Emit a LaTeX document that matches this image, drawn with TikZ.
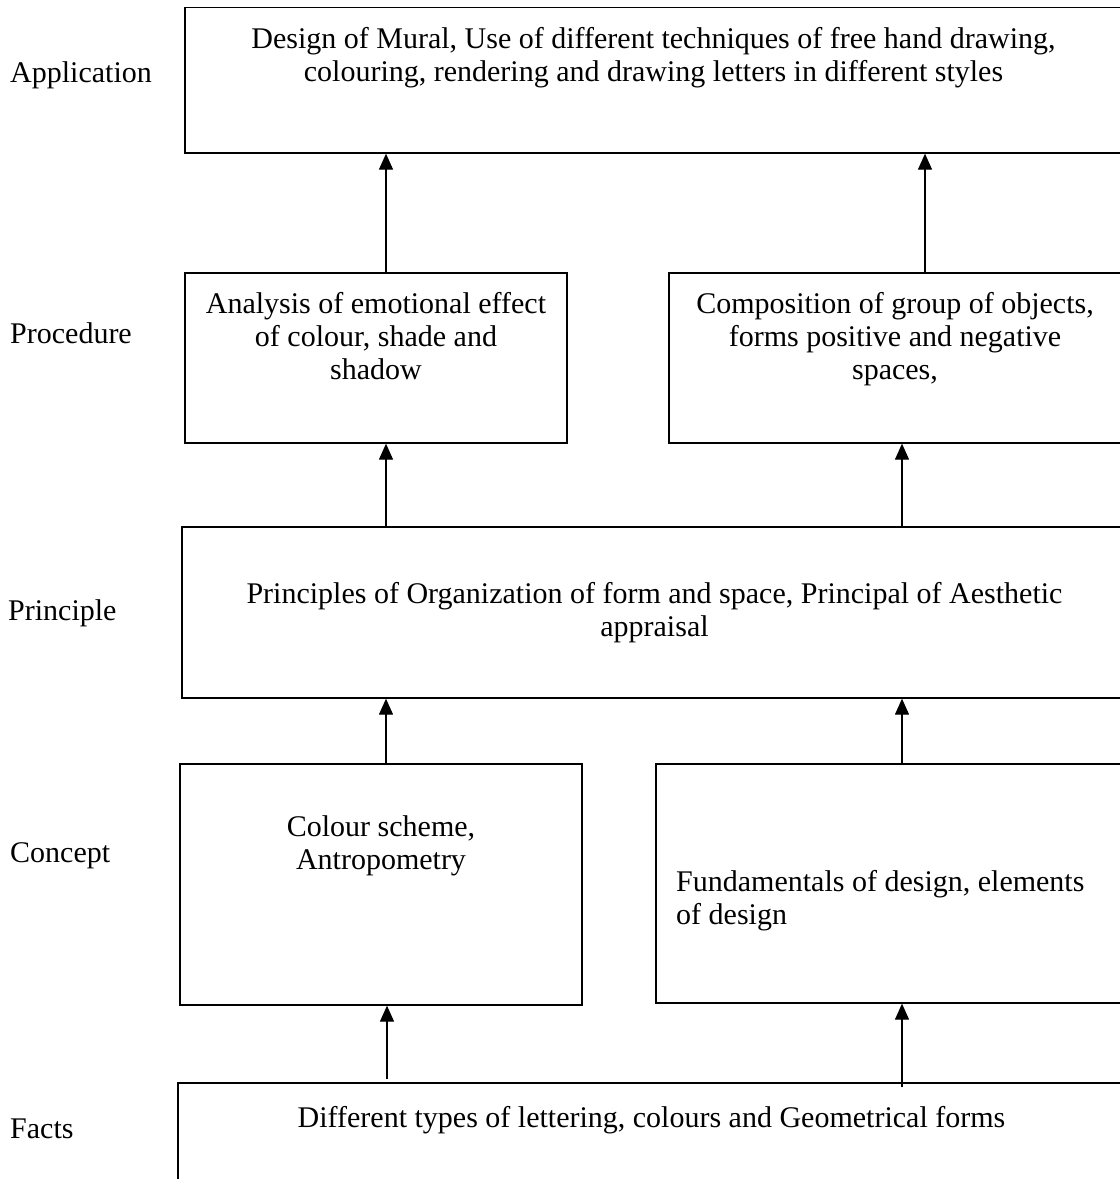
\documentclass[tikz,border=0pt]{standalone}
\usepackage{fontspec}
\setmainfont{Liberation Serif}
\usetikzlibrary{arrows.meta}
\begin{document}
\begin{tikzpicture}[x=1pt,y=-1pt,
  box/.style={draw, line width=1.3pt, rectangle, inner sep=0pt},
  txt/.style={font=\fontsize{30}{33}\selectfont, inner sep=0pt, align=center, anchor=north},
  lbl/.style={font=\fontsize{30}{33}\selectfont, inner sep=0pt, anchor=base west},
  arr/.style={line width=1.3pt, -{Triangle[width=14pt,length=16pt]}}]
\useasboundingbox (0,0) rectangle (1120,1179);
\clip (0,0) rectangle (1120,1179);

% boxes
\node[box, minimum width=937, minimum height=145.5] (app) at (653.5,80.25) {};
\node[box, minimum width=382, minimum height=170] (procL) at (376,358) {};
\node[box, minimum width=453, minimum height=170] (procR) at (895.5,358) {};
\node[box, minimum width=945, minimum height=171] (prin) at (654.5,612.5) {};
\node[box, minimum width=402, minimum height=241] (conL) at (381,884.5) {};
\node[box, minimum width=469, minimum height=239] (conR) at (890.5,883.5) {};
\node[box, minimum width=947, minimum height=117] (facts) at (651.5,1141.5) {};

% texts
\node[txt] (appT) at (653.5,27) {Design of Mural, Use of different techniques of free hand drawing,\\colouring, rendering and drawing letters in different styles};
\node[txt] (procLT) at (376,292.5) {Analysis of emotional effect\\of colour, shade and\\shadow};
\node[txt] (procRT) at (895,292.5) {Composition of group of objects,\\forms positive and negative\\spaces,};
\node[txt] (prinT) at (654.5,582) {Principles of Organization of form and space, Principal of Aesthetic\\appraisal};
\node[txt] (conLT) at (381,815) {Colour scheme,\\Antropometry};
\node[txt, anchor=north west, align=left] (conRT) at (676,870) {Fundamentals of design, elements\\of design};
\node[txt, anchor=base] (factsT) at (651.5,1127) {Different types of lettering, colours and Geometrical forms};

% labels
\node[lbl] (lApp) at (10,82) {Application};
\node[lbl] (lProc) at (10,343) {Procedure};
\node[lbl] (lPrin) at (8,620) {Principle};
\node[lbl] (lCon) at (10,862) {Concept};
\node[lbl] (lFacts) at (10,1138) {Facts};

% arrows
\draw[arr] ([xshift=10pt]procL.north) -- ([xshift=10pt]procL.north |- app.south);
\draw[arr] ([xshift=29.5pt]procR.north) -- ([xshift=29.5pt]procR.north |- app.south);
\draw[arr] ([xshift=10pt]procL.south |- prin.north) -- ([xshift=10pt]procL.south);
\draw[arr] ([xshift=6.5pt]procR.south |- prin.north) -- ([xshift=6.5pt]procR.south);
\draw[arr] ([xshift=5pt]conL.north) -- ([xshift=5pt]conL.north |- prin.south);
\draw[arr] ([xshift=11.5pt]conR.north) -- ([xshift=11.5pt]conR.north |- prin.south);
\draw[arr] ([xshift=6pt,yshift=3pt]conL.south |- facts.north) -- ([xshift=6pt]conL.south);
\draw[arr] ([xshift=11.5pt,yshift=-5pt]conR.south |- facts.north) -- ([xshift=11.5pt]conR.south);
\end{tikzpicture}
\end{document}
